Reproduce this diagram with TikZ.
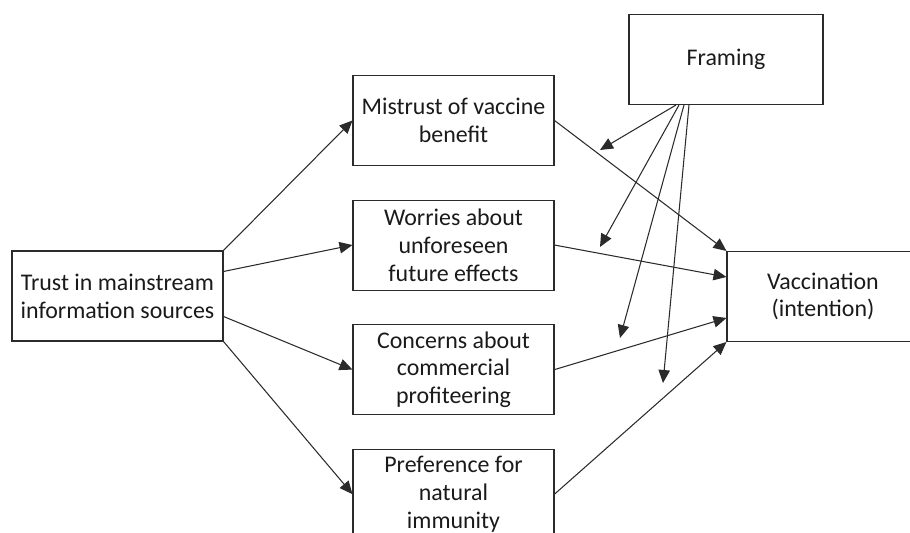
\documentclass[tikz,border=0pt]{standalone}
\usepackage{fontspec}
\setmainfont{Carlito}
\usetikzlibrary{arrows.meta,positioning}
\definecolor{LineGray}{HTML}{2B2B2B}
\definecolor{TextGray}{HTML}{1A1A1A}

\begin{document}
\begin{tikzpicture}[
    font=\fontsize{13.6pt}{15.8pt}\selectfont,
    % 默认箭头: 实心三角
    >={Triangle[length=0.26cm,width=0.23cm]},
    line width=0.6pt,
    varbox/.style={draw=LineGray, text=TextGray, align=center, inner sep=0pt, minimum height=1.8cm},
    link/.style={->, LineGray}
]

    % --- 0. 画布范围 (右侧与下方被裁掉) ---
    \clip (0,0) rectangle (18.2,10.66);

    % --- 1. 变量框 ---
    \node[varbox, minimum width=4.22cm] (trust) at (2.35,4.74) {Trust in mainstream\\information sources};

    \node[varbox, minimum width=4.02cm] (mistrust) at (9.07,8.25) {Mistrust of vaccine\\benefit};
    \node[varbox, minimum width=4.02cm, below=0.67cm of mistrust] (worries) {Worries about\\unforeseen\\future effects};
    \node[varbox, minimum width=4.02cm, below=0.67cm of worries] (concerns) {Concerns about\\commercial\\profiteering};
    \node[varbox, minimum width=4.02cm, below=0.67cm of concerns] (preference) {Preference for\\natural\\immunity};

    \node[varbox, minimum width=3.88cm] (framing) at (14.52,9.47) {Framing};
    \node[varbox, minimum width=3.84cm] (vacc) at (16.46,4.73) {Vaccination\\(intention)};

    % --- 2. 左侧箭头 ---
    \draw[link] (trust.north east) -- (mistrust.west);
    \draw[link] ([yshift=0.49cm]trust.east) -- (worries.west);
    \draw[link] ([yshift=-0.41cm]trust.east) -- (concerns.west);
    \draw[link] (trust.south east) -- (preference.west);

    % --- 3. 右侧箭头 ---
    \draw[link] (mistrust.east) -- (vacc.north west);
    \draw[link] (worries.east) -- ([yshift=0.39cm]vacc.west);
    \draw[link] (concerns.east) -- ([yshift=-0.43cm]vacc.west);
    \draw[link] (preference.east) -- (vacc.south west);

    % --- 4. Framing 调节箭头 ---
    \coordinate (modA) at (12.0,7.66);
    \coordinate (modB) at (12.0,5.72);
    \coordinate (modC) at (12.4,3.90);
    \coordinate (modD) at (13.26,3.0);
    \foreach \dx/\tip in {-1.0/modA, -0.94/modB, -0.84/modC, -0.74/modD} {
        \draw[link] ([xshift=\dx cm]framing.south) -- (\tip);
    }

\end{tikzpicture}
\end{document}
